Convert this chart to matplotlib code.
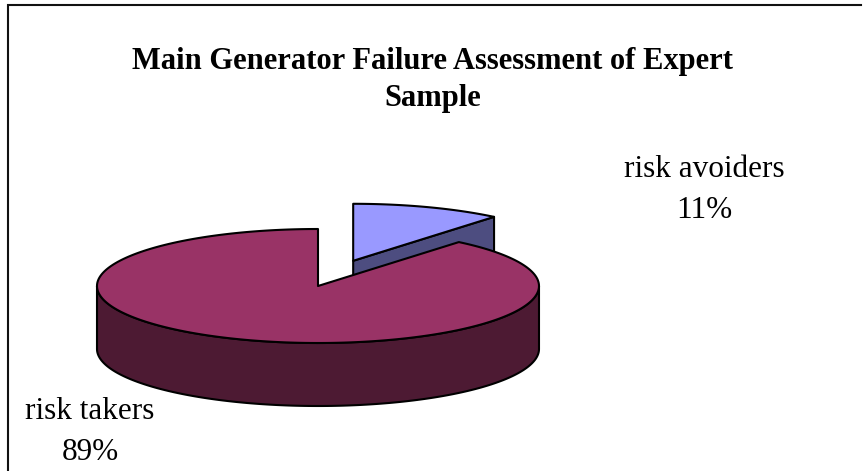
import numpy as np
import matplotlib
matplotlib.use("Agg")
import matplotlib.pyplot as plt
from matplotlib.patches import Polygon

# chart data
labels = ["risk avoiders", "risk takers"]
values = [11, 89]
top_colors = ["#9999FF", "#993366"]
side_colors = ["#4D4D80", "#4D1A33"]
explode = [0.47, 0.0]
title = "Main Generator Failure Assessment of Expert\nSample"

# pie geometry (pixels, y down)
CX, CY = 318, 286
A, B = 221, 57
DEPTH = 63


def pt(cx, cy, deg):
    t = np.radians(deg)
    return cx + A * np.sin(t), cy - B * np.cos(t)


def arc(cx, cy, a0, a1, dy=0):
    n = max(int(abs(a1 - a0)), 2)
    ts = np.linspace(a0, a1, n)
    xs, ys = pt(cx, cy, ts)
    return list(zip(xs, ys + dy))


fig = plt.figure(figsize=(8.66, 4.71), dpi=100)
ax = fig.add_axes([0, 0, 1, 1])
ax.set_xlim(0, 866)
ax.set_ylim(471, 0)
ax.axis("off")

total = sum(values)
angles = np.cumsum([0] + [v / total * 360 for v in values])

# draw slices: exploded small one first, big one on top
for i in range(len(values)):
    a0, a1 = angles[i], angles[i + 1]
    mid = (a0 + a1) / 2
    ox = A * explode[i] * np.sin(np.radians(mid))
    oy = -B * explode[i] * np.cos(np.radians(mid))
    cx, cy = CX + ox, CY + oy

    # radial face at end angle (faces the viewer when end is in the back-right)
    if 0 < a1 < 180:
        ex, ey = pt(cx, cy, a1)
        face = [(cx, cy), (ex, ey), (ex, ey + DEPTH), (cx, cy + DEPTH)]
        ax.add_patch(Polygon(face, closed=True, facecolor=side_colors[i],
                             edgecolor="black", lw=1.5, joinstyle="round"))

    # front outer side
    s0, s1 = max(a0, 90), min(a1, 270)
    if s1 > s0:
        side = arc(cx, cy, s0, s1) + arc(cx, cy, s1, s0, DEPTH)
        ax.add_patch(Polygon(side, closed=True, facecolor=side_colors[i],
                             edgecolor="black", lw=1.5, joinstyle="round"))

    # top
    top = [(cx, cy)] + arc(cx, cy, a0, a1)
    ax.add_patch(Polygon(top, closed=True, facecolor=top_colors[i],
                         edgecolor="black", lw=1.5, joinstyle="round"))

# labels
pcts = [f"{v / total * 100:.0f}%" for v in values]
lab_pos = [(704, 177, 218), (90, 419, 460)]
for lab, pct, (x, y1, y2) in zip(labels, pcts, lab_pos):
    ax.text(x, y1, lab, ha="center", va="baseline", fontsize=22.5,
            family="Liberation Serif")
    ax.text(x, y2, pct, ha="center", va="baseline", fontsize=22.5,
            family="Liberation Serif")

# title
t1, t2 = title.split("\n")
ax.text(433, 69, t1, ha="center", va="baseline", fontsize=22,
        fontweight="bold", family="Liberation Serif")
ax.text(433, 106, t2, ha="center", va="baseline", fontsize=22,
        fontweight="bold", family="Liberation Serif")

# chart border (left and top visible)
ax.plot([8, 8, 861], [471, 5, 5], color="#111111", lw=1.5,
        solid_joinstyle="miter")

fig.savefig("out.png", dpi=100)
